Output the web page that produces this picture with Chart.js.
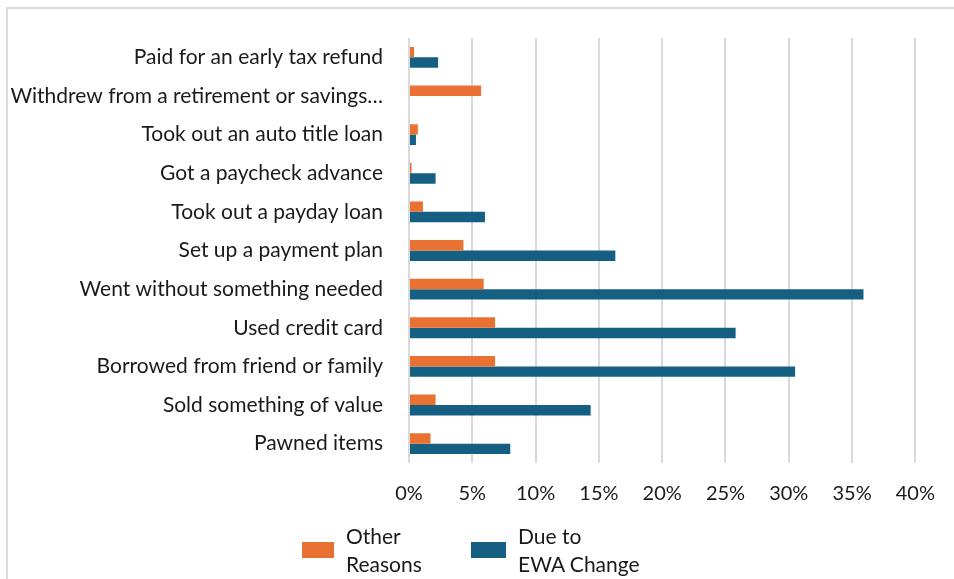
<!DOCTYPE html>
<html>
<head>
<meta charset="utf-8">
<script src="https://cdn.jsdelivr.net/npm/chart.js@4/dist/chart.umd.min.js"></script>
<style>
  html, body { margin: 0; padding: 0; background: #fff; }
  #wrap { position: relative; width: 954px; height: 579px; overflow: hidden; }
  #frame {
    position: absolute; left: 6px; top: 7px; width: 1000px; height: 700px;
    border-top: 2px solid #d9d9d9; border-left: 2px solid #d9d9d9;
  }
  #chart { position: absolute; left: 0; top: 0; }
  .legend-item { position: absolute; display: flex; align-items: center; font-family: Lato, sans-serif; font-size: 21px; color: #1a1a1a; line-height: 28px; }
  .legend-item .swatch { height: 16px; margin-right: 12px; }
</style>
</head>
<body>
<div id="wrap">
  <div id="frame"></div>
  <canvas id="chart" width="954" height="579"></canvas>
  <div id="legend"></div>
</div>
<script>
const categories = [
  'Paid for an early tax refund',
  'Withdrew from a retirement or savings\u2026',
  'Took out an auto title loan',
  'Got a paycheck advance',
  'Took out a payday loan',
  'Set up a payment plan',
  'Went without something needed',
  'Used credit card',
  'Borrowed from friend or family',
  'Sold something of value',
  'Pawned items'
];

const otherReasons = [0.4, 5.7, 0.7, 0.2, 1.1, 4.3, 5.9, 6.8, 6.8, 2.1, 1.7];
const dueToEwaChange = [2.3, 0, 0.55, 2.1, 6.0, 16.3, 35.9, 25.8, 30.5, 14.35, 8.0];

const seriesNames = [['Other', 'Reasons'], ['Due to', 'EWA Change']];
const seriesColors = ['#E97132', '#156082'];

const FONT = 'Lato, sans-serif';

new Chart(document.getElementById('chart'), {
  type: 'bar',
  data: {
    labels: categories,
    datasets: [
      { label: seriesNames[0].join(' '), data: otherReasons, backgroundColor: seriesColors[0] },
      { label: seriesNames[1].join(' '), data: dueToEwaChange, backgroundColor: seriesColors[1] }
    ]
  },
  options: {
    indexAxis: 'y',
    responsive: false,
    animation: false,
    barPercentage: 1,
    categoryPercentage: 0.54,
    layout: { padding: { left: 0, top: 38, right: 37, bottom: 56 } },
    plugins: {
      legend: { display: false },
      tooltip: { enabled: false }
    },
    scales: {
      x: {
        min: 0,
        max: 40,
        border: { display: false },
        grid: { color: '#d9d9d9', lineWidth: 2, drawTicks: false },
        ticks: {
          stepSize: 5,
          padding: 19,
          color: '#1a1a1a',
          font: { family: FONT, size: 20 },
          callback: v => v + '%'
        },
        afterFit: scale => { scale.height = 60; }
      },
      y: {
        border: { display: false },
        grid: { display: false },
        ticks: {
          padding: 18,
          color: '#1a1a1a',
          font: { family: FONT, size: 21 }
        },
        afterFit: scale => { scale.width = 409; }
      }
    }
  }
});

// legend: two-line labels next to a colour swatch
const legendPos = [[302, 522], [471, 522]];
const swatchWidths = [32, 35];
const legend = document.getElementById('legend');
seriesNames.forEach((lines, i) => {
  const item = document.createElement('div');
  item.className = 'legend-item';
  item.style.left = legendPos[i][0] + 'px';
  item.style.top = legendPos[i][1] + 'px';
  item.innerHTML = '<div class="swatch" style="width:' + swatchWidths[i] + 'px;background:' + seriesColors[i] + '"></div><div>' + lines.join('<br>') + '</div>';
  legend.appendChild(item);
});
</script>
</body>
</html>
